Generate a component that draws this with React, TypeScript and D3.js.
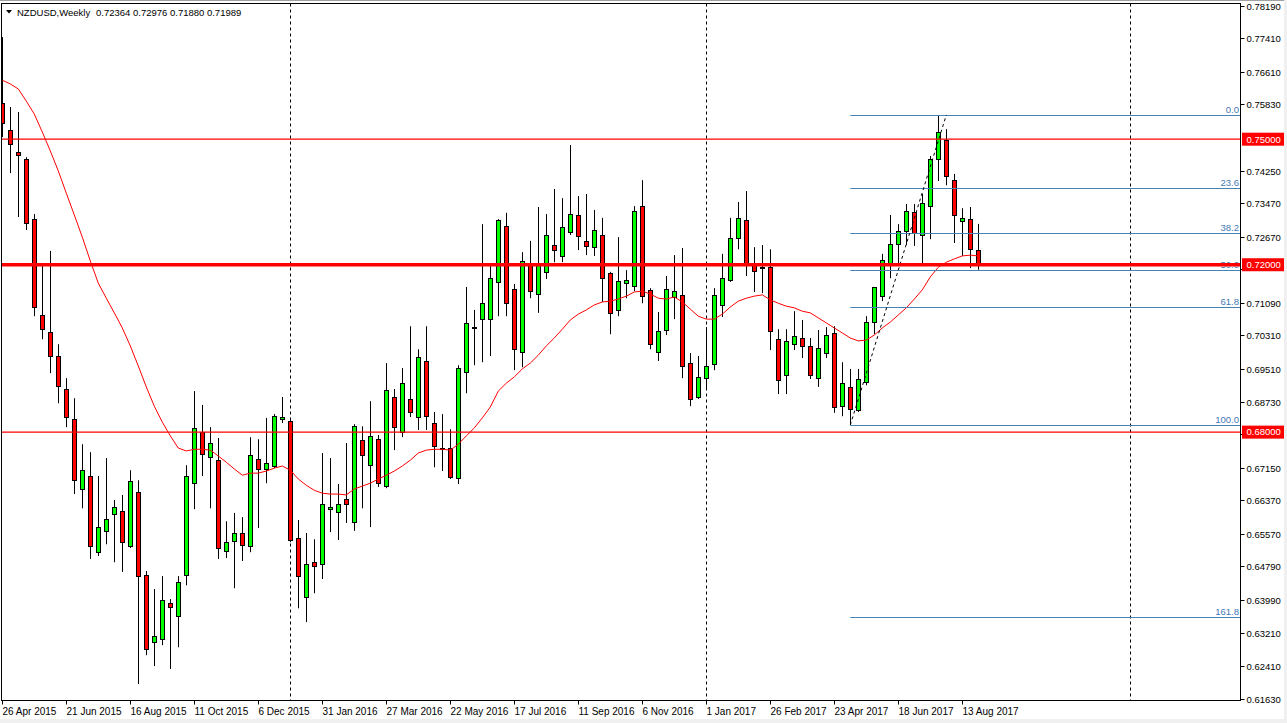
import React from 'react';
import * as d3 from 'd3';

const startDate = new Date(2015, 3, 26);

const opens = [
0.7586,0.7522,0.7469,0.7453,0.7309,0.7080,0.7039,0.6982,0.6903,0.6831,
0.6664,0.6695,0.6513,0.6564,0.6604,0.6611,0.6528,0.6657,0.6458,0.6298,
0.6305,0.6391,0.6360,0.6458,0.6678,0.6800,0.6740,0.6733,0.6516,0.6540,
0.6559,0.6528,0.6736,0.6712,0.6719,0.6831,0.6826,0.6547,0.6406,0.6489,
0.6485,0.6616,0.6609,0.6640,0.6585,0.6781,0.6721,0.6783,0.6671,0.6884,
0.6800,0.6879,0.6836,0.6970,0.6822,0.6762,0.6762,0.6690,0.6944,0.7051,
0.7070,0.7070,0.7159,0.7292,0.7142,0.6991,0.7199,0.7130,0.7183,0.7247,
0.7221,0.7278,0.7319,0.7257,0.7242,0.7271,0.7180,0.7092,0.7156,0.7149,
0.7340,0.7140,0.6991,0.7044,0.7123,0.7128,0.6965,0.6884,0.6929,0.6963,
0.7104,0.7163,0.7264,0.7307,0.7199,0.7194,0.7195,0.7022,0.6936,0.7010,
0.7025,0.7006,0.6929,0.6989,0.7037,0.6862,0.6908,0.6853,0.6920,0.7063,
0.7125,0.7204,0.7249,0.7281,0.7326,0.7271,0.7340,0.7453,0.7498,0.7402,
0.7304,0.7309,0.72364];

const highs = [
0.7744,0.7577,0.7565,0.7457,0.7321,0.7197,0.7233,0.7010,0.6929,0.6881,
0.6771,0.6752,0.6695,0.6738,0.6638,0.6650,0.6709,0.6685,0.6468,0.6425,
0.6456,0.6401,0.6456,0.6721,0.6898,0.6865,0.6812,0.6786,0.6587,0.6607,
0.6597,0.6788,0.6783,0.6834,0.6843,0.6884,0.6834,0.6590,0.6559,0.6544,
0.6750,0.6738,0.6676,0.6774,0.6819,0.6814,0.6874,0.6793,0.6965,0.6903,
0.6953,0.7053,0.6998,0.7053,0.6848,0.6843,0.6807,0.6960,0.7147,0.7092,
0.7297,0.7197,0.7309,0.7324,0.7154,0.7230,0.7257,0.7338,0.7321,0.7381,
0.7359,0.7486,0.7364,0.7369,0.7331,0.7312,0.7183,0.7266,0.7187,0.7340,
0.7402,0.7144,0.7087,0.7173,0.7223,0.7240,0.6989,0.6982,0.7051,0.7144,
0.7226,0.7312,0.7350,0.7376,0.7242,0.7247,0.7237,0.7046,0.7046,0.7089,
0.7068,0.7025,0.7044,0.7051,0.7053,0.6967,0.6951,0.6951,0.7077,0.7147,
0.7226,0.7319,0.7297,0.7345,0.7345,0.7369,0.7460,0.7558,0.7524,0.7417,
0.7335,0.7338,0.72976];

const lows = [
0.7505,0.7419,0.7314,0.7283,0.7077,0.7022,0.6941,0.6869,0.6812,0.6652,
0.6618,0.6497,0.6504,0.6532,0.6489,0.6466,0.6523,0.6198,0.6267,0.6241,
0.6291,0.6234,0.6286,0.6434,0.6616,0.6695,0.6618,0.6497,0.6499,0.6427,
0.6492,0.6513,0.6571,0.6678,0.6714,0.6822,0.6537,0.6379,0.6346,0.6415,
0.6449,0.6561,0.6542,0.6583,0.6564,0.6618,0.6573,0.6669,0.6666,0.6757,
0.6788,0.6836,0.6805,0.6805,0.6716,0.6707,0.6688,0.6676,0.6893,0.6960,
0.6967,0.6982,0.7077,0.7077,0.6948,0.6955,0.7120,0.7085,0.7166,0.7206,
0.7206,0.7271,0.7235,0.7223,0.7221,0.7111,0.7034,0.7077,0.7120,0.7137,
0.7108,0.6998,0.6970,0.7032,0.7070,0.6929,0.6862,0.6879,0.6901,0.6948,
0.7075,0.7159,0.7237,0.7173,0.7135,0.7132,0.6996,0.6891,0.6891,0.6996,
0.6977,0.6927,0.6908,0.6977,0.6846,0.6838,0.6817,0.6848,0.6912,0.7034,
0.7113,0.7168,0.7204,0.7247,0.7245,0.7204,0.7261,0.7400,0.7390,0.7252,
0.7221,0.7192,0.71880];

const closes = [
0.7539,0.7488,0.7462,0.7300,0.7099,0.7046,0.6982,0.6910,0.6836,0.6685,
0.6709,0.6528,0.6573,0.6592,0.6621,0.6537,0.6683,0.6456,0.6281,0.6313,
0.6399,0.6382,0.6442,0.6695,0.6810,0.6748,0.6774,0.6523,0.6537,0.6559,
0.6530,0.6745,0.6712,0.6726,0.6838,0.6836,0.6542,0.6456,0.6485,0.6480,
0.6628,0.6621,0.6628,0.6628,0.6814,0.6745,0.6791,0.6678,0.6901,0.6812,
0.6917,0.6848,0.6979,0.6838,0.6767,0.6759,0.6693,0.6953,0.7061,0.7051,
0.7108,0.7168,0.7307,0.7108,0.6998,0.7209,0.7137,0.7199,0.7271,0.7235,
0.7290,0.7321,0.7269,0.7245,0.7283,0.7168,0.7085,0.7161,0.7163,0.7328,
0.7125,0.7010,0.7042,0.7142,0.7137,0.6958,0.6879,0.6932,0.6958,0.7128,
0.7168,0.7264,0.7312,0.7202,0.7185,0.7194,0.7042,0.6924,0.7018,0.7030,
0.7006,0.6936,0.7001,0.7032,0.6860,0.6917,0.6855,0.6927,0.7063,0.7147,
0.7211,0.7249,0.7281,0.7328,0.7276,0.7347,0.7453,0.7517,0.7412,0.7319,
0.7312,0.7237,0.71989];

const maValues = [
0.7641,0.7632,0.7620,0.7591,0.7560,0.7517,0.7472,0.7424,0.7371,0.7319,
0.7266,0.7209,0.7156,0.7120,0.7085,0.7049,0.7006,0.6958,0.6908,0.6862,
0.6824,0.6791,0.6762,0.6755,0.6759,0.6759,0.6757,0.6743,0.6728,0.6712,
0.6697,0.6702,0.6702,0.6707,0.6714,0.6719,0.6709,0.6688,0.6673,0.6661,
0.6654,0.6652,0.6652,0.6650,0.6664,0.6671,0.6678,0.6688,0.6697,0.6707,
0.6719,0.6733,0.6750,0.6757,0.6759,0.6759,0.6757,0.6771,0.6791,0.6810,
0.6834,0.6860,0.6898,0.6917,0.6932,0.6951,0.6965,0.6984,0.7006,0.7025,
0.7046,0.7068,0.7082,0.7092,0.7104,0.7111,0.7113,0.7118,0.7125,0.7135,
0.7137,0.7130,0.7120,0.7118,0.7123,0.7111,0.7094,0.7077,0.7070,0.7070,
0.7082,0.7099,0.7113,0.7120,0.7125,0.7128,0.7116,0.7108,0.7101,0.7097,
0.7089,0.7085,0.7073,0.7061,0.7049,0.7037,0.7025,0.7018,0.7020,0.7032,
0.7049,0.7063,0.7080,0.7097,0.7118,0.7140,0.7171,0.7194,0.7206,0.7214,
0.7221,0.7223,0.7221];

const yTickLabels = ["0.78190","0.77410","0.76610","0.75830","0.74250","0.73470","0.72670",
"0.71090","0.70310","0.69510","0.68730","0.67150","0.66370","0.65570","0.64790","0.63990",
"0.63210","0.62410","0.61630"];
const hiddenTicks = ["0.71890", "0.67950"];

const dateTickLabels = ["26 Apr 2015","21 Jun 2015","16 Aug 2015","11 Oct 2015","6 Dec 2015","31 Jan 2016",
"27 Mar 2016","22 May 2016","17 Jul 2016","11 Sep 2016","6 Nov 2016","1 Jan 2017","26 Feb 2017",
"23 Apr 2017","18 Jun 2017","13 Aug 2017"];
const dateTickStep = 8;

const levelLines = [0.75, 0.72, 0.68];
const levelLabels = ["0.75000", "0.72000", "0.68000"];
const majorLevel = 0.72;

const fibLevels = [0, 23.6, 38.2, 50, 61.8, 100, 161.8];
const fibHigh = 0.7558;
const fibLow = 0.6817;
const fibStartBar = 106;
const fibEndBar = 118;

const headerSymbol = "NZDUSD,Weekly";
const headerValues = ["0.72364", "0.72976", "0.71880", "0.71989"];

const FONT = '"Liberation Sans", Arial, sans-serif';

export default function App() {
  const W = 1287, H = 723;
  const L = 1.5, T = 3.5, R = 1240.5, B = 700.5;
  const y = d3.scaleLinear().domain([0.6163, 0.7819]).range([698.7, 5.7]);
  const x = d3.scaleLinear().domain([0, 1]).range([2.3, 10.3]);
  const nBars = 155;

  const barDate = (i: number) => d3.timeWeek.offset(startDate, i);
  const separators: number[] = [];
  for (let i = 1; i < nBars; i++) {
    if (barDate(i).getFullYear() !== barDate(i - 1).getFullYear()) separators.push(i);
  }

  const maLine = d3.line<number>()
    .x((_, i) => x(i))
    .y((d) => y(d));

  const fibY = (lvl: number) => y(fibHigh - (fibHigh - fibLow) * lvl / 100);
  const fibColor = '#4682B4';

  const candles = opens.map((o, i) => {
    const c = closes[i], h = highs[i], l = lows[i];
    const cx = Math.round(x(i)) + 0.5;
    const top = Math.round(y(Math.max(o, c))) + 0.5;
    const bot = Math.round(y(Math.min(o, c))) + 0.5;
    const fill = c > o ? '#00ff00' : c < o ? '#ff0000' : '#000000';
    return (
      <g key={i}>
        <line x1={cx} x2={cx} y1={y(h)} y2={y(l)} stroke="#000" strokeWidth={1} />
        <rect x={cx - 2} y={top} width={4} height={Math.max(1, bot - top)} fill={fill} stroke="#000" strokeWidth={1} />
      </g>
    );
  });

  return (
    <div style={{ position: 'absolute', left: 0, top: 0 }}>
      <svg width={W} height={H} style={{ display: 'block' }} fontFamily={FONT}>
        <rect x={0} y={0} width={W} height={H} fill="#ffffff" />
        <rect x={0} y={0} width={W} height={1} fill="#a0a0a0" />
        <rect x={0} y={719} width={W} height={4} fill="#f0f0f0" />
        <rect x={1284} y={0} width={3} height={H} fill="#f0f0f0" />
        <defs>
          <clipPath id="plotClip">
            <rect x={2} y={4} width={R - 2} height={B - 4} />
          </clipPath>
        </defs>
        <g clipPath="url(#plotClip)">
          {separators.map((i) => (
            <line key={'s' + i} x1={Math.round(x(i)) + 0.5} x2={Math.round(x(i)) + 0.5} y1={T} y2={B}
              stroke="#000" strokeWidth={1} strokeDasharray="3,3" />
          ))}
          {candles}
          <path d={maLine(maValues) || ''} fill="none" stroke="#ff0000" strokeWidth={1} />
          {fibLevels.map((lvl) => (
            <g key={'f' + lvl}>
              <line x1={x(fibStartBar)} x2={R} y1={Math.round(fibY(lvl)) + 0.5} y2={Math.round(fibY(lvl)) + 0.5}
                stroke={fibColor} strokeWidth={1} />
              <text x={R - 1.5} y={Math.round(fibY(lvl)) - 2} textAnchor="end" fontSize={9.5} fill="#3f78b5">
                {lvl.toFixed(1)}
              </text>
            </g>
          ))}
          <line x1={x(fibStartBar)} y1={y(fibLow)} x2={x(fibEndBar)} y2={y(fibHigh)}
            stroke="#000" strokeWidth={1} strokeDasharray="3,3" />
          {levelLines.map((p) => (
            <line key={'l' + p} x1={0} x2={R} y1={y(p)} y2={y(p)} stroke="#ff0000"
              strokeWidth={p === majorLevel ? 3.5 : 1.2} />
          ))}
        </g>
        <rect x={L} y={T} width={R - L} height={B - T} fill="none" stroke="#000" strokeWidth={1} />
        {yTickLabels.map((t) => {
          const yy = Math.round(y(+t)) + 0.5;
          return (
            <g key={'y' + t}>
              <line x1={R} x2={R + 4} y1={yy} y2={yy} stroke="#000" strokeWidth={1} />
              <text x={R + 6} y={yy} dy="0.35em" fontSize={9.5} fill="#000">{t}</text>
            </g>
          );
        })}
        {hiddenTicks.map((t) => {
          const yy = Math.round(y(+t)) + 0.5;
          return <line key={'h' + t} x1={R} x2={R + 4} y1={yy} y2={yy} stroke="#000" strokeWidth={1} />;
        })}
        {levelLines.map((p, k) => (
          <g key={'lb' + p}>
            <rect x={1242} y={y(p) - 6.5} width={42} height={13} fill="#ff0000" />
            <text x={1246.5} y={y(p)} dy="0.35em" fontSize={9.5} fill="#ffffff">{levelLabels[k]}</text>
          </g>
        ))}
        {dateTickLabels.map((t, k) => {
          const xx = Math.round(x(k * dateTickStep)) + 0.5;
          return (
            <g key={'d' + k}>
              <line x1={xx} x2={xx} y1={B} y2={B + 4} stroke="#000" strokeWidth={1} />
              <text x={xx} y={715} fontSize={10} fill="#000">{t}</text>
            </g>
          );
        })}
        <path d="M6,10 L12,10 L9,13.5 Z" fill="#000" />
        <text x={17} y={15.5} fontSize={9.5} fill="#000">{headerSymbol}</text>
        <text x={96} y={15.5} fontSize={9.5} fill="#000">{headerValues.join(' ')}</text>
      </svg>
    </div>
  );
}
